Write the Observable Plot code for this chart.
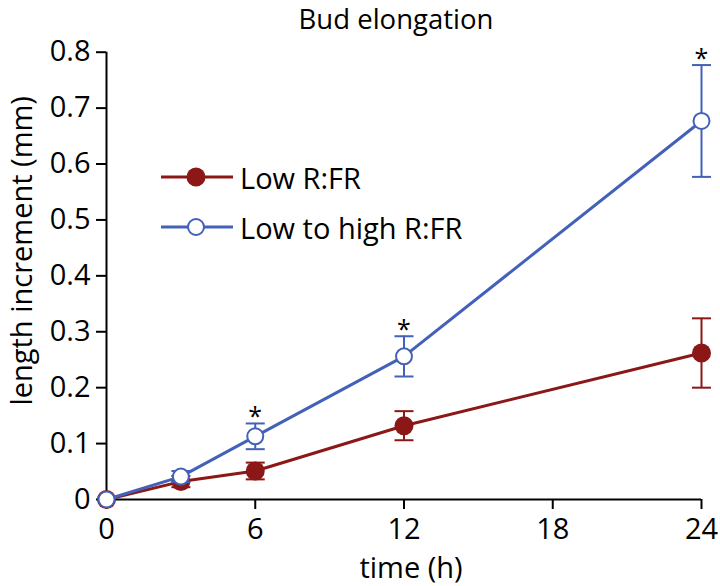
<!DOCTYPE html>
<html>
<head>
<meta charset="utf-8">
<script src="https://cdn.jsdelivr.net/npm/d3@7"></script>
<script src="https://cdn.jsdelivr.net/npm/@observablehq/plot@0.6"></script>
<style>
  html, body { margin: 0; padding: 0; background: #fff; }
  #wrap { position: relative; width: 720px; height: 586px; font-family: "Open Sans", Lato, sans-serif; color: #000; }
  #title { position: absolute; top: 0; left: 0; box-sizing: border-box; width: 720px; height: 38px; padding-left: 72px; text-align: center; font-size: 27.5px; line-height: 38px; white-space: nowrap; }
  #chart { position: absolute; top: 28px; left: 0; }
  .leg { position: absolute; left: 161px; display: flex; align-items: center; font-size: 29px; height: 40px; white-space: nowrap; }
  .leg svg { margin-right: 7px; }
</style>
</head>
<body>
<div id="wrap">
  <div id="chart"></div>
  <div id="title">Bud elongation</div>
  <div id="legend"></div>
</div>
<script>
// ---- data ----
const times      = [0, 3, 6, 12, 24];
const lowMean    = [0, 0.032, 0.051, 0.132, 0.262];
const lowErr     = [0, 0.010, 0.015, 0.026, 0.062];
const highMean   = [0, 0.041, 0.113, 0.256, 0.677];
const highErr    = [0, 0.010, 0.023, 0.036, 0.100];
const significant = [false, false, true, true, true];
const seriesNames = ["Low R:FR", "Low to high R:FR"];
const xTicks = [0, 6, 12, 18, 24];
const yTicks = [0, 0.1, 0.2, 0.3, 0.4, 0.5, 0.6, 0.7, 0.8];

const RED = "#8b1717";
const BLUE = "#4361b8";

const low = times.map((t, i) => ({t, m: lowMean[i], lo: lowMean[i] - lowErr[i], hi: lowMean[i] + lowErr[i], e: lowErr[i]}));
const high = times.map((t, i) => ({t, m: highMean[i], lo: highMean[i] - highErr[i], hi: highMean[i] + highErr[i], e: highErr[i], sig: significant[i]}));
const lowE = low.filter(d => d.e > 0);
const highE = high.filter(d => d.e > 0);

// horizontal cap symbol for error bars
const cap = { draw(ctx, size) { const r = Math.sqrt(size / Math.PI); ctx.moveTo(-r, 0); ctx.lineTo(r, 0); } };

const FONT = "'Open Sans', Lato, sans-serif";

const chart = Plot.plot({
  width: 720,
  height: 558,
  marginTop: 23.7,
  marginBottom: 87,
  marginLeft: 106,
  marginRight: 19,
  x: {domain: [0, 24]},
  y: {domain: [0, 0.8]},
  style: {fontFamily: FONT, color: "#000", background: "transparent", overflow: "visible"},
  marks: [
    Plot.axisY({ticks: yTicks, tickSize: 10, tickPadding: 6, fontSize: 29, strokeWidth: 2, label: null, tickFormat: d => d === 0 ? "0" : d3.format(".1f")(d)}),
    Plot.axisX({ticks: xTicks, tickSize: 10, tickPadding: 9, fontSize: 29, strokeWidth: 2, label: null}),
    Plot.ruleX([0], {y1: 0, y2: 0.8, stroke: "#000", strokeWidth: 2}),
    Plot.ruleY([0], {x1: 0, x2: 24, stroke: "#000", strokeWidth: 2}),
    // low R:FR
    Plot.ruleX(lowE, {x: "t", y1: "lo", y2: "hi", stroke: RED, strokeWidth: 2}),
    Plot.dot(lowE, {x: "t", y: "hi", symbol: cap, r: 9.5, stroke: RED, strokeWidth: 2}),
    Plot.dot(lowE, {x: "t", y: "lo", symbol: cap, r: 9.5, stroke: RED, strokeWidth: 2}),
    Plot.line(low, {x: "t", y: "m", stroke: RED, strokeWidth: 3}),
    Plot.dot(low, {x: "t", y: "m", r: 9.5, fill: RED, stroke: "none"}),
    // low to high R:FR
    Plot.ruleX(highE, {x: "t", y1: "lo", y2: "hi", stroke: BLUE, strokeWidth: 2}),
    Plot.dot(highE, {x: "t", y: "hi", symbol: cap, r: 9.5, stroke: BLUE, strokeWidth: 2}),
    Plot.dot(highE, {x: "t", y: "lo", symbol: cap, r: 9.5, stroke: BLUE, strokeWidth: 2}),
    Plot.line(high, {x: "t", y: "m", stroke: BLUE, strokeWidth: 3}),
    Plot.dot(high, {x: "t", y: "m", r: 8, fill: "#fff", stroke: BLUE, strokeWidth: 2}),
    // significance stars
    Plot.text(high.filter(d => d.sig), {x: "t", y: "hi", text: () => "*", fontSize: 25, dy: -6, lineAnchor: "middle", fill: "#000"}),
    // axis titles
    Plot.text(["length increment (mm)"], {frameAnchor: "left", rotate: -90, dx: -84, dy: -25, fontSize: 29, textAnchor: "middle", lineAnchor: "middle", fill: "#000"}),
    Plot.text(["time (h)"], {frameAnchor: "bottom", dx: 7, dy: 69, fontSize: 29, textAnchor: "middle", lineAnchor: "middle", fill: "#000"})
  ]
});
document.getElementById("chart").appendChild(chart);

// legend
const legend = document.getElementById("legend");
const legendTops = [157, 207];
seriesNames.forEach((name, i) => {
  const row = document.createElement("div");
  row.className = "leg";
  row.style.top = legendTops[i] + "px";
  const color = i === 0 ? RED : BLUE;
  const marker = i === 0
    ? `<circle cx="35" cy="15" r="9.5" fill="${color}"/>`
    : `<circle cx="35" cy="15" r="8" fill="#fff" stroke="${color}" stroke-width="2"/>`;
  row.innerHTML = `<svg width="72" height="30"><line x1="0" x2="72" y1="15" y2="15" stroke="${color}" stroke-width="3"/>${marker}</svg><span>${name}</span>`;
  legend.appendChild(row);
});
</script>
</body>
</html>
